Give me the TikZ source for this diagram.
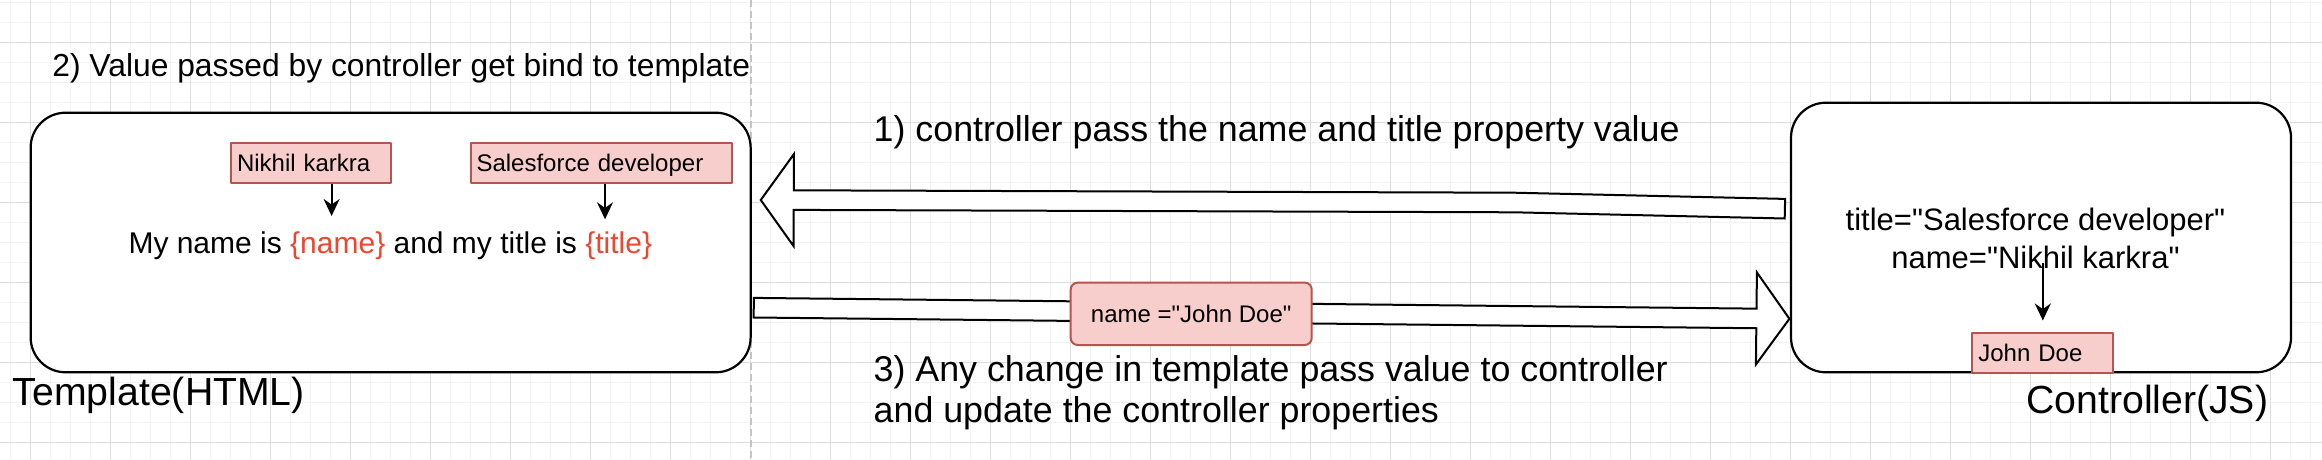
\documentclass[tikz,border=0pt]{standalone}
\usepackage{fontspec}
\setmainfont{Liberation Sans}[Ligatures=TeXOff]
\usetikzlibrary{arrows.meta,calc,positioning}
\definecolor{VBfill}{HTML}{F8CECC}
\definecolor{VBedge}{HTML}{B85450}
\definecolor{VBtag}{HTML}{F0452E}
\definecolor{VBgrid}{HTML}{DDDDDD}
\definecolor{VBgridlite}{HTML}{F3F3F3}
\definecolor{VBdash}{HTML}{C4C4C4}
\newcommand{\tagtext}[1]{\textcolor{VBtag}{#1}}
% hollow block arrow: tail, bend, tip
\newcommand{\flowarrow}[3]{%
  \coordinate (fh) at ($(#3)!16.5pt!(#2)$);
  \draw[hollow] ($(#1)!4.9pt!90:(#2)$) -- ($(#2)!4.9pt!90:(#3)$)
    -- ($(fh)!4.9pt!90:(#3)$) -- ($(fh)!23pt!90:(#3)$) -- (#3)
    -- ($(fh)!23pt!-90:(#3)$) -- ($(fh)!4.9pt!-90:(#3)$)
    -- ($(#2)!4.9pt!-90:(#3)$) -- ($(#1)!4.9pt!-90:(#2)$) -- cycle;}

\begin{document}
\begin{tikzpicture}[
  x=0.5pt,y=-0.5pt,
  line join=round,
  minorgrid/.style={draw=VBgridlite,line width=0.5pt},
  majorgrid/.style={draw=VBgrid,line width=0.5pt},
  divider/.style={draw=VBdash,line width=1pt,dash pattern=on 3.5pt off 2pt},
  panel/.style={draw=black,line width=1.1pt,rounded corners=17.5pt,fill=white},
  valbox/.style={draw=VBedge,fill=VBfill,line width=1pt,inner xsep=3pt,inner ysep=0pt,
    minimum height=20pt,align=left,text height=10pt,text depth=1.5pt,
    font=\fontsize{12}{14}\selectfont},
  chip/.style={draw=VBedge,fill=VBfill,line width=1pt,rounded corners=3.5pt,
    minimum width=120.5pt,minimum height=31.2pt,font=\fontsize{12}{14}\selectfont},
  hollow/.style={draw=black,line width=1pt,fill=white,line join=miter},
  bindarrow/.style={draw=black,line width=1pt,-{Stealth[length=8.5pt,width=8pt,inset=2.8pt]}},
  stepnote/.style={inner sep=0pt,font=\fontsize{17.9}{20.5}\selectfont},
  bodytext/.style={inner sep=0pt,font=\fontsize{15}{18}\selectfont},
  caption/.style={inner sep=0pt,font=\fontsize{19.6}{23}\selectfont}
]

% Canvas and drawing grid
\fill[white] (0,0) rectangle (2322,460);
\useasboundingbox (0,0) rectangle (2322,460);
\foreach \gx in {0,...,115} \draw[minorgrid] ({10.7+20*\gx},0) -- ++(0,460);
\foreach \gy in {0,...,22} \draw[minorgrid] (0,{2.7+20*\gy}) -- ++(2322,0);
\foreach \gx in {0,...,28} \draw[majorgrid] ({30.7+80*\gx},0) -- ++(0,460);
\foreach \gy in {0,...,5} \draw[majorgrid] (0,{42.7+80*\gy}) -- ++(2322,0);
\draw[divider] (751,0) -- (751,460);

% Template side
\node[panel,minimum width=360pt,minimum height=129.8pt] (tmpl) at (390.65,242.5) {};
\node[caption,anchor=base west] (tmplname) at (12.5,405) {Template(HTML)};
\node[stepnote,font=\fontsize{15.9}{19}\selectfont,anchor=base west] (bindnote) at (52,76)
  {2) Value passed by controller get bind to template};
\node[valbox,text width=74pt] (nk) at (311,162.7) {Nikhil karkra};
\node[valbox,text width=124.5pt] (sf) at (601,162.7) {Salesforce developer};
\node[bodytext,anchor=base] (bindline) at (390.3,253.3)
  {My name is \tagtext{\{name\}} and my title is \tagtext{\{title\}}};
\coordinate (nametip) at (331.6,216);
\coordinate (titletip) at (605,219.3);
\draw[bindarrow] (nk.south -| nametip) -- (nametip);
\draw[bindarrow] (sf.south -| titletip) -- (titletip);

% Controller side (base of a two-line node sits on its last line)
\node[panel,minimum width=250pt,minimum height=134.8pt] (ctl) at (2041,237.5) {};
\node[caption,anchor=base west] (ctlname) at (2026,413) {Controller(JS)};
\node[bodytext,font=\fontsize{15.5}{19.15}\selectfont,align=center,anchor=base] (ctlvals)
  at (2035.5,268.3) {title="Salesforce developer"\\name="Nikhil karkra"};
\node[valbox,text width=64.5pt] (jd) at (2042.8,353) {John Doe};
\coordinate (ctlsrc) at (2042.8,263);
\draw[bindarrow,shorten >=5.75pt] (ctlsrc) -- (jd.north);

% Data flow between the two sides
\coordinate (a1tail) at ([shift={(-5,-28.8)}]ctl.west);
\coordinate (a1bend) at (1514,202.5);
\coordinate (a1tip) at ([shift={(9,-42.5)}]tmpl.east);
\flowarrow{a1tail}{a1bend}{a1tip}
\node[stepnote,anchor=base west] (passnote) at (873.3,141.7)
  {1) controller pass the name and title property value};

\coordinate (a3tail) at ([shift={(2,65.2)}]tmpl.east);
\coordinate (a3tip) at ([shift={(-0.5,81.3)}]ctl.west);
\coordinate (a3mid) at ($(a3tail)!0.5!(a3tip)$);
\flowarrow{a3tail}{a3mid}{a3tip}
\node[chip] (jdval) at (1191.2,313.8) {name ="John Doe"};
\node[stepnote,anchor=base west,align=left] (updnote) at (873.3,422.7)
  {3) Any change in template pass value to controller\\and update the controller properties};

\end{tikzpicture}
\end{document}
